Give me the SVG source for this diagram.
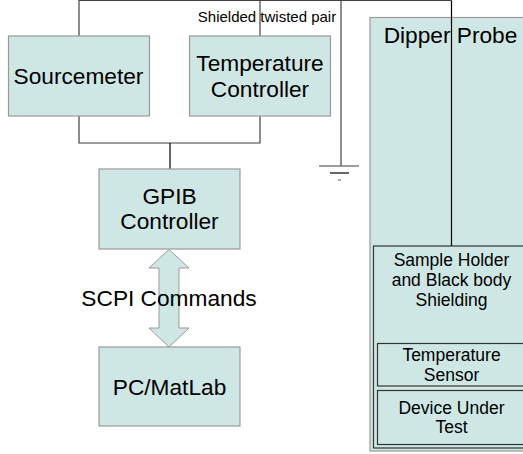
<svg xmlns="http://www.w3.org/2000/svg" width="523" height="454" viewBox="0 0 523 454">
<style>
.box{fill:#cfe7e4;stroke:#999;stroke-width:1.2}
.inner{fill:#cfe7e4;stroke:#333;stroke-width:1.2}
.wire{fill:none;stroke:#404040;stroke-width:1.2}
text{font-family:"Liberation Sans",Arial,sans-serif;fill:#000;text-anchor:middle}
.big{font-size:22.7px}
.mid{font-size:17.5px}
.small{font-size:15px}
</style>
<rect width="523" height="454" fill="#fff"/>
<g id="dipper-probe">
<rect class="box" x="370" y="17.5" width="162" height="433.5"/>
<text class="big" x="450.5" y="43">Dipper Probe</text>
</g>
<g id="sample-holder">
<rect class="inner" x="373.5" y="246" width="160" height="202"/>
<text class="mid" x="451.5" y="266">Sample Holder</text>
<text class="mid" x="451.5" y="286">and Black body</text>
<text class="mid" x="451.5" y="306">Shielding</text>
</g>
<g id="temperature-sensor">
<rect class="inner" x="377.5" y="343.5" width="156" height="42.5"/>
<text class="mid" x="451.5" y="361">Temperature</text>
<text class="mid" x="451.5" y="381">Sensor</text>
</g>
<g id="device-under-test">
<rect class="inner" x="377.5" y="390.5" width="156" height="54"/>
<text class="mid" x="451.5" y="414">Device Under</text>
<text class="mid" x="451.5" y="433">Test</text>
</g>
<g id="connectors">
<polyline class="wire" points="79,36 79,0.5 451.5,0.5"/>
<line class="wire" x1="260" y1="0.5" x2="260" y2="36"/>
<polyline class="wire" points="341,0.5 341,166"/>
<line class="wire" x1="319" y1="166" x2="359" y2="166"/>
<line x1="330" y1="173" x2="349" y2="173" stroke="#000" stroke-width="1.2"/>
<line x1="338" y1="180" x2="341" y2="180" stroke="#555" stroke-width="1"/>
<line x1="451.5" y1="0.5" x2="451.5" y2="246" stroke="#000" stroke-width="1.2"/>
<polyline class="wire" points="79,116 79,143 260,143 260,116"/>
<line x1="170" y1="143" x2="170" y2="169" stroke="#000" stroke-width="1.2"/>
<polygon points="169,249.5 189,268 179,268 179,328 189,328 169,347 149,328 159,328 159,268 149,268" fill="#cfe7e4" stroke="#999" stroke-width="1"/>
<text class="big" x="169" y="306">SCPI Commands</text>
<text class="small" x="267" y="22">Shielded twisted pair</text>
</g>
<g id="sourcemeter">
<rect class="box" x="8.5" y="36" width="141" height="80"/>
<text class="big" x="78.5" y="84">Sourcemeter</text>
</g>
<g id="temperature-controller">
<rect class="box" x="189.5" y="36" width="141" height="80"/>
<text class="big" x="260" y="71">Temperature</text>
<text class="big" x="260" y="97">Controller</text>
</g>
<g id="gpib-controller">
<rect class="box" x="99" y="169" width="141" height="80"/>
<text class="big" x="169.5" y="204">GPIB</text>
<text class="big" x="169.5" y="229">Controller</text>
</g>
<g id="pc-matlab">
<rect class="box" x="99" y="347" width="141" height="79"/>
<text class="big" x="169.5" y="395">PC/MatLab</text>
</g>
</svg>
